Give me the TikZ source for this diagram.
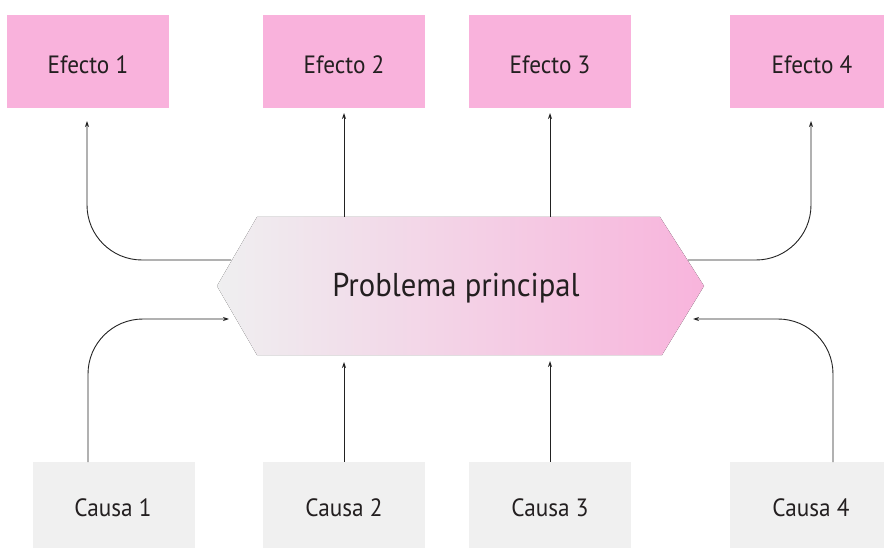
\documentclass[tikz,border=0pt]{standalone}
\usepackage{fontspec}
\setmainfont{PT Sans}[FakeStretch=0.93]
\usetikzlibrary{arrows.meta}
\definecolor{efpink}{HTML}{F9B2DC}
\definecolor{cagray}{HTML}{F0F0F0}
\definecolor{hexleft}{HTML}{EFEFF0}
\definecolor{hexright}{HTML}{F8B4DC}
\definecolor{txt}{HTML}{231F20}
\definecolor{ln}{HTML}{222222}
\begin{document}
\begin{tikzpicture}[x=1pt,y=-1pt,
  efbox/.style={fill=efpink,minimum width=162pt,minimum height=93pt,inner sep=0pt},
  cabox/.style={fill=cagray,minimum width=162pt,minimum height=90pt,inner sep=0pt},
  lbl/.style={text=txt,font=\fontsize{25}{28}\selectfont,inner sep=0pt,anchor=base},
  conn/.style={draw=ln,line width=0.9pt,-{Stealth[length=6pt,width=4pt]}},
  curved/.style={conn,rounded corners=55pt}]
\useasboundingbox (0,0) rectangle (884,548);
\clip (0,0) rectangle (884,548);
% hexagon
\fill[left color=hexleft,right color=hexright] (217,286) -- (257,217) -- (660,217) -- (704,286) -- (662,355) -- (257,355) -- cycle;
\node[lbl,font=\fontsize{33}{36}\selectfont] (pp) at (456,297) {Problema principal};
% effect boxes
\node[efbox] (e1) at (88,61.5) {};
\node[efbox] (e2) at (344,61.5) {};
\node[efbox] (e3) at (550,61.5) {};
\node[efbox] (e4) at (811,61.5) {};
\node[lbl] (e1t) at (88,74) {Efecto 1};
\node[lbl] (e2t) at (344,74) {Efecto 2};
\node[lbl] (e3t) at (550,74) {Efecto 3};
\node[lbl] (e4t) at (812,74) {Efecto 4};
% cause boxes
\node[cabox] (c1) at (114,507) {};
\node[cabox] (c2) at (344,507) {};
\node[cabox] (c3) at (550,507) {};
\node[cabox] (c4) at (811,507) {};
\node[lbl] (c1t) at (113,516) {Causa 1};
\node[lbl] (c2t) at (344,516) {Causa 2};
\node[lbl] (c3t) at (550,516) {Causa 3};
\node[lbl] (c4t) at (811,516) {Causa 4};
% connector end points
\coordinate (h1) at (231,260);
\coordinate (h2) at (344,217);
\coordinate (h3) at (550,217);
\coordinate (h4) at (688,260);
\coordinate (t1) at (87,121);
\coordinate (t2) at (344,113);
\coordinate (t3) at (550,113);
\coordinate (t4) at (811,121);
\coordinate (s1) at (88,462);
\coordinate (s4) at (833,462);
\coordinate (k1) at (229,319);
\coordinate (k2) at (344,362);
\coordinate (k3) at (550,361);
\coordinate (k4) at (693,319);
% connectors
\draw[curved] (h1) -| (t1);
\draw[conn] (h2) -- (t2);
\draw[conn] (h3) -- (t3);
\draw[curved] (h4) -| (t4);
\draw[curved] (s1) |- (k1);
\draw[conn] (c2.north) -- (k2);
\draw[conn] (c3.north) -- (k3);
\draw[curved] (s4) |- (k4);
\end{tikzpicture}
\end{document}
